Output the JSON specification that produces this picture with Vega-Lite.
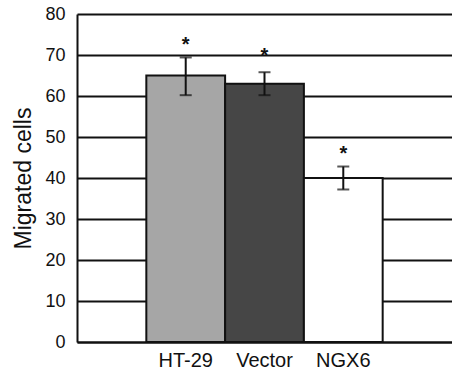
{
  "$schema": "https://vega.github.io/schema/vega-lite/v6.json",
  "autosize": "none",
  "padding": {"left": 77, "top": 14, "right": 0, "bottom": 30},
  "width": 375,
  "height": 328,
  "background": "white",
  "config": {
    "view": {"stroke": null},
    "font": "Liberation Sans"
  },
  "data": {
    "values": [
      {"group": "HT-29", "value": 65, "lo": 60.2, "hi": 69.4, "star": 73.4},
      {"group": "Vector", "value": 63, "lo": 60.2, "hi": 65.8, "star": 70.8},
      {"group": "NGX6", "value": 40, "lo": 37.2, "hi": 42.8, "star": 46.8}
    ]
  },
  "encoding": {
    "x": {
      "field": "group",
      "type": "nominal",
      "sort": ["HT-29", "Vector", "NGX6"],
      "scale": {"paddingInner": 0, "paddingOuter": 0.88},
      "axis": {
        "title": null,
        "orient": "bottom",
        "domain": true,
        "domainColor": "#111",
        "domainWidth": 2,
        "ticks": false,
        "labelAngle": 0,
        "labelFontSize": 20,
        "labelColor": "#111",
        "labelPadding": 8
      }
    }
  },
  "layer": [
    {
      "mark": {"type": "bar", "stroke": "#111", "strokeWidth": 2},
      "encoding": {
        "y": {
          "field": "value",
          "type": "quantitative",
          "scale": {"domain": [0, 80], "nice": false},
          "axis": {
            "values": [0, 10, 20, 30, 40, 50, 60, 70, 80],
            "grid": true,
            "gridColor": "#111",
            "gridWidth": 2,
            "gridOpacity": 1,
            "domain": true,
            "domainColor": "#111",
            "domainWidth": 2,
            "ticks": false,
            "labelPadding": 12,
            "labelFontSize": 18,
            "labelColor": "#111",
            "title": "Migrated  cells",
            "titleFontSize": 23,
            "titleFontWeight": "normal",
            "titleColor": "#111",
            "titlePadding": 9
          }
        },
        "fill": {
          "field": "group",
          "type": "nominal",
          "scale": {"domain": ["HT-29", "Vector", "NGX6"], "range": ["#a6a6a6", "#464646", "#ffffff"]},
          "legend": null
        }
      }
    },
    {
      "mark": {"type": "rule", "color": "#111", "strokeWidth": 2},
      "encoding": {
        "y": {"field": "lo", "type": "quantitative"},
        "y2": {"field": "hi"}
      }
    },
    {
      "mark": {"type": "tick", "color": "#111", "thickness": 2, "size": 12},
      "encoding": {"y": {"field": "lo", "type": "quantitative"}}
    },
    {
      "mark": {"type": "tick", "color": "#111", "thickness": 2, "size": 12},
      "encoding": {"y": {"field": "hi", "type": "quantitative"}}
    },
    {
      "mark": {"type": "text", "text": "*", "color": "#111", "fontSize": 20, "fontWeight": "bold", "baseline": "middle", "dy": 4},
      "encoding": {"y": {"field": "star", "type": "quantitative"}}
    }
  ]
}
